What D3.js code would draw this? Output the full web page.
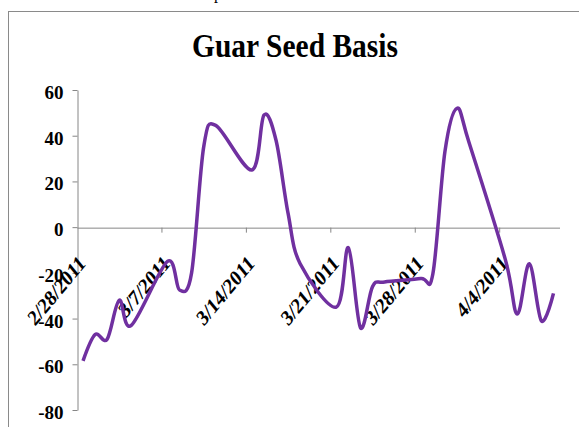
<!DOCTYPE html>
<html>
<head>
<meta charset="utf-8">
<script src="https://cdn.jsdelivr.net/npm/d3@7"></script>
<style>
  body { margin: 0; background: #fff; }
  svg { display: block; }
  text { font-family: "Liberation Serif", "Times New Roman", serif; font-weight: bold; }
</style>
</head>
<body>
<div id="chart"></div>
<script>
// trading days and the basis value on each
const dates = ['2011-02-28', '2011-03-01', '2011-03-02', '2011-03-03', '2011-03-04',
	'2011-03-07', '2011-03-08', '2011-03-09', '2011-03-10', '2011-03-11',
	'2011-03-14', '2011-03-15', '2011-03-16', '2011-03-17', '2011-03-18',
	'2011-03-21', '2011-03-22', '2011-03-23', '2011-03-24', '2011-03-25',
	'2011-03-28', '2011-03-29', '2011-03-30', '2011-03-31', '2011-04-01',
	'2011-04-04', '2011-04-05', '2011-04-06', '2011-04-07', '2011-04-08'];
const basis = [-58.5, -47, -49, -32, -43,
	-15, -27.5, -20, 35, 44.5,
	25, 49, 38, 6, -16,
	-35, -9, -44, -26, -24,
	-22.5, -20.5, 33, 52, 37,
	-14, -38, -16, -41, -29];
const tickDates = ['2011-02-28', '2011-03-07', '2011-03-14', '2011-03-21', '2011-03-28', '2011-04-04'];
const yTicks = [-80, -60, -40, -20, 0, 20, 40, 60];
const title = 'Guar Seed Basis';

const width = 579, height = 427;
const parse = d3.utcParse('%Y-%m-%d');
const fmt = d3.utcFormat('%-m/%-d/%Y');
const halfDay = 12 * 3600 * 1000;

const svg = d3.select('#chart')
	.append('svg')
	.attr('width', width)
	.attr('height', height);

// bit of page text above the chart frame
svg.append('text')
	.attr('x', 214)
	.attr('y', -1)
	.style('font-size', '16px')
	.style('font-weight', 'normal')
	.text('p');

// chart frame
svg.append('rect')
	.attr('x', 8.5)
	.attr('y', 11.5)
	.attr('width', 600)
	.attr('height', 500)
	.attr('fill', 'none')
	.attr('stroke', '#8a8a8a');

svg.append('text')
	.attr('x', 295)
	.attr('y', 57)
	.attr('text-anchor', 'middle')
	.attr('textLength', 206)
	.attr('lengthAdjust', 'spacingAndGlyphs')
	.style('font-size', '33px')
	.text(title);

var x = d3.scaleUtc()
	.domain([parse('2011-02-28'), parse('2011-04-09')])
	.range([77, 559.5]);

var y = d3.scaleLinear().domain([-80, 60]).range([410, 90]);

// y axis
var yAxis = svg.append('g')
	.attr('transform', 'translate(77.5,0)')
	.call(d3.axisLeft(y).tickValues(yTicks).tickSize(5).tickSizeOuter(0).tickPadding(9)
		.tickFormat((d) => String(d)));
yAxis.selectAll('path, line').attr('stroke', '#868686');
yAxis.selectAll('text')
	.attr('fill', '#000')
	.attr('dy', '0.45em')
	.style('font-size', '19px')
	.style('font-family', '"Liberation Serif", serif');

// x axis on the zero line
var halfPx = x(new Date(halfDay)) - x(new Date(0));
var xAxis = svg.append('g')
	.attr('transform', 'translate(0,' + (y(0) + 0.5) + ')')
	.call(d3.axisBottom(x).tickValues(tickDates.map(parse)).tickSize(5).tickSizeOuter(0).tickFormat(fmt));
xAxis.selectAll('path, line').attr('stroke', '#868686');
xAxis.selectAll('.tick line').filter((d, i) => i === 0).remove();
// labels look squeezed sideways in the original, hence the scale
xAxis.selectAll('text')
	.attr('fill', '#000')
	.attr('y', 0)
	.attr('dy', 0)
	.attr('text-anchor', 'end')
	.attr('transform', 'translate(' + (halfPx + 3) + ',37) scale(0.83,1) rotate(-45)')
	.style('font-size', '22px')
	.style('font-family', '"Liberation Serif", serif');

var points = dates.map((d, i) => ({ date: new Date(parse(d).getTime() + halfDay), value: basis[i] }));

var line = d3.line()
	.x((d) => x(d.date))
	.y((d) => y(d.value))
	.curve(d3.curveCardinal.tension(0));

svg.append('path')
	.datum(points)
	.attr('fill', 'none')
	.attr('stroke', '#7030a0')
	.attr('stroke-width', 3.5)
	.attr('stroke-linejoin', 'round')
	.attr('d', line);
</script>
</body>
</html>
